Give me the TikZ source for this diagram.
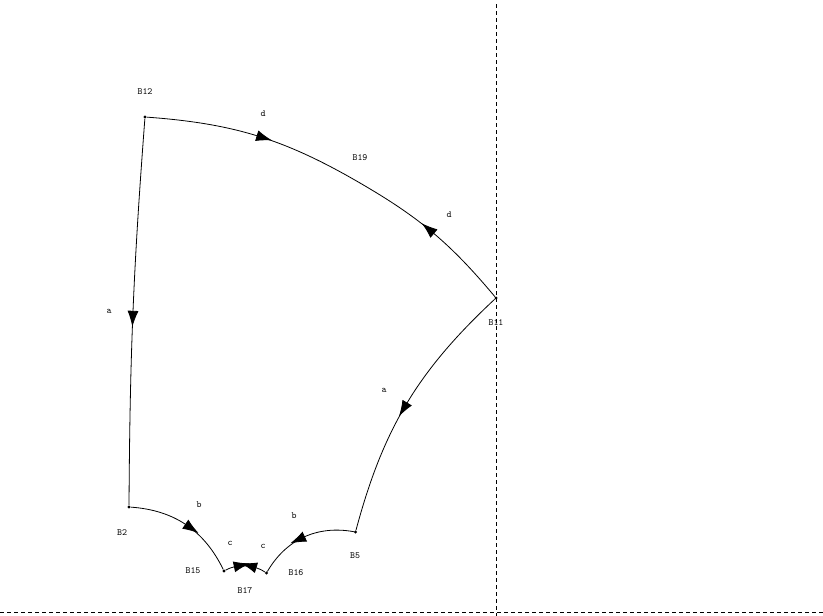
\documentclass[tikz,border=0pt]{standalone}
\usetikzlibrary{arrows.meta,decorations.markings}
\begin{document}
\begin{tikzpicture}[x=1pt,y=-1pt,
  dot/.style={circle,fill,inner sep=0pt,minimum size=3.2pt},
  lbl/.style={font=\ttfamily\fontsize{9.5}{9.5}\selectfont,inner sep=0pt},
  curve/.style={line width=0.8pt,postaction={decorate},
    decoration={markings,mark=at position 0.5 with {\arrow[xshift=15pt]{Latex[length=16pt,width=11pt]}}}},
  guide/.style={line width=0.7pt,dash pattern=on 4pt off 3pt}]
\useasboundingbox (0,0) rectangle (823,616);
% guide lines
\coordinate (vtop) at (496,4);
\coordinate (vbot) at (496,616);
\coordinate (hl) at (0,612);
\coordinate (hr) at (823,612);
\draw[guide] (vtop) -- (vbot);
\draw[guide] (hl) -- (hr);
% points
\node[dot] (B12) at (145,117) {};
\node[dot] (B2) at (129,507) {};
\node[dot] (B15) at (224,571) {};
\coordinate (B17) at (245,566);
\node[dot] (B16) at (266.5,573) {};
\node[dot] (B5) at (355.5,532) {};
\node[dot] (B11) at (496,298) {};
\coordinate (B19) at (360,183);
% edges
\draw[curve] (B12) to[bend left=13] (B19);
\draw[curve] (B11) to[bend right=10] (B19);
\draw[curve] (B12) to[bend right=2] (B2);
\draw[curve] (B11) to[bend right=16] (B5);
\draw[curve] (B2) to[bend left=30] (B15);
\draw[curve] (B5) to[bend right=35] (B16);
\draw[curve] (B15) to[bend left=15] (B17);
\draw[curve] (B16) to[bend right=15] (B17);
% labels
\node[lbl] (lB12) at (145,92) {B12};
\node[lbl] (ld1) at (263,114) {d};
\node[lbl] (lB19) at (360,158) {B19};
\node[lbl] (ld2) at (449,215) {d};
\node[lbl] (lB11) at (496,323) {B11};
\node[lbl] (la1) at (109,311) {a};
\node[lbl] (la2) at (384,390) {a};
\node[lbl] (lB2) at (122,533) {B2};
\node[lbl] (lb1) at (199,505) {b};
\node[lbl] (lB15) at (193,571) {B15};
\node[lbl] (lc1) at (230,543) {c};
\node[lbl] (lB17) at (245,591) {B17};
\node[lbl] (lc2) at (263,546) {c};
\node[lbl] (lB16) at (296,573) {B16};
\node[lbl] (lb2) at (294,516) {b};
\node[lbl] (lB5) at (355,556) {B5};
\end{tikzpicture}
\end{document}
